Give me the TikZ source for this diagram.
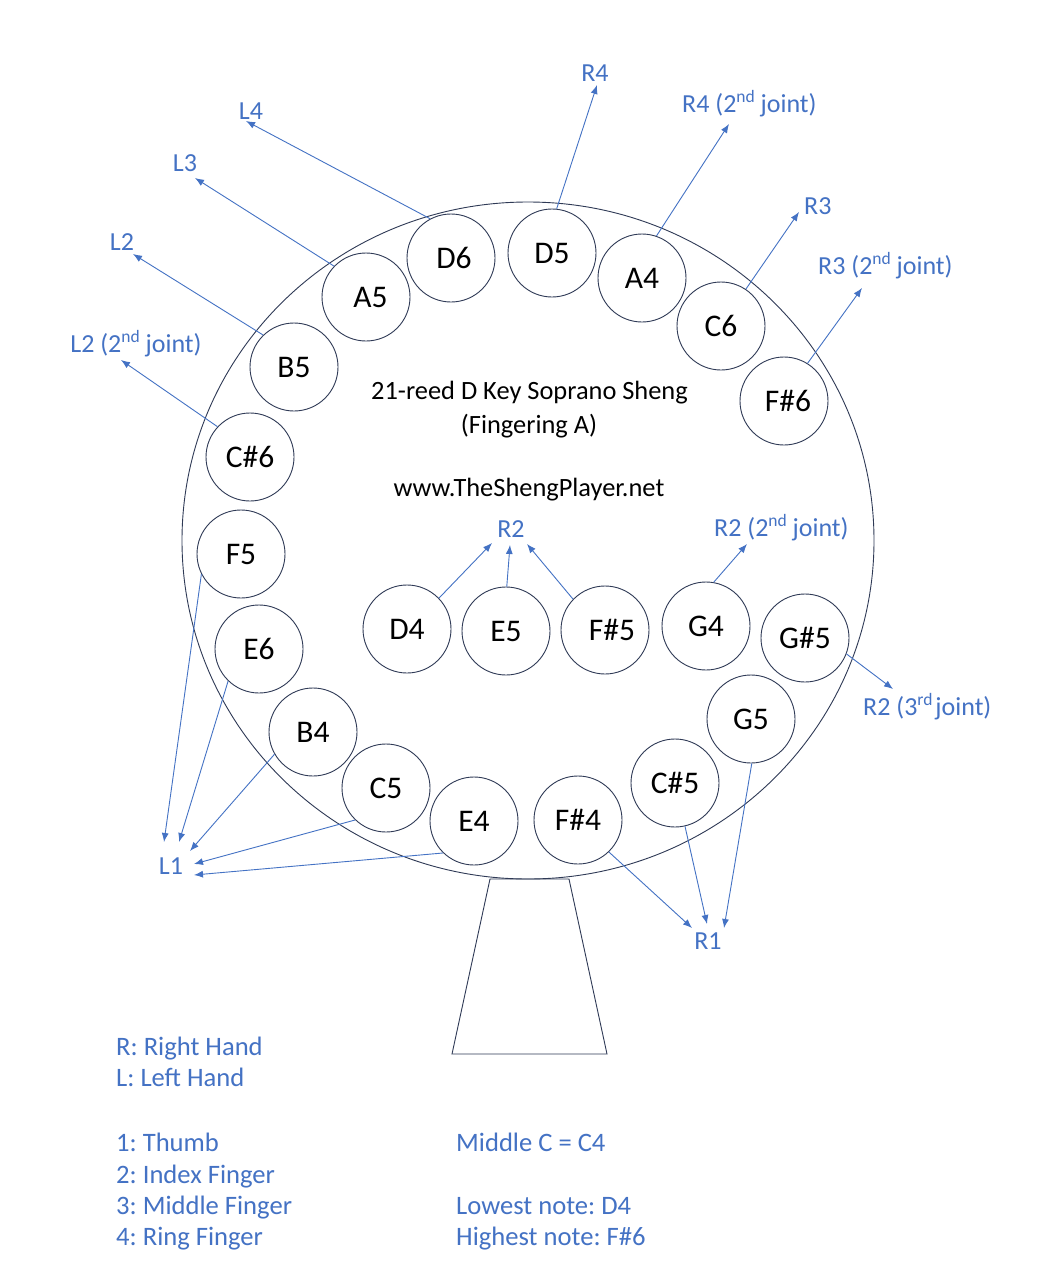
\documentclass[tikz,border=0pt]{standalone}
\usepackage{fontspec}
\setmainfont{Carlito}
\usetikzlibrary{arrows.meta}
\definecolor{ublue}{HTML}{4472C4}
\definecolor{navy}{HTML}{2F3A56}
\newcommand\mysup[1]{\raisebox{0.36em}{\fontsize{17.5}{17.5}\selectfont #1}}
\frenchspacing
\begin{document}
\begin{tikzpicture}[x=1pt,y=-1pt,
  note/.style={circle, draw=navy, line width=0.9pt, minimum size=88pt, inner sep=0pt,
    font=\fontsize{31.5}{36}\selectfont, text=black},
  arr/.style={draw=ublue, line width=0.9pt, -{Latex[length=9pt,width=7pt]}},
  lab/.style={text=ublue, font=\fontsize{26}{30}\selectfont, inner sep=0pt},
  ttl/.style={text=black, font=\fontsize{26.4}{31}\selectfont, inner sep=0pt},
  leg/.style={text=ublue, font=\fontsize{26.6}{32}\selectfont, inner sep=0pt, anchor=base west},
  body/.style={draw=navy, line width=0.9pt}]
\fill[white] (0,0) rectangle (1058,1280);
\useasboundingbox (0,0) rectangle (1058,1280);

% sheng body
\draw[body] (528,540.5) ellipse [x radius=346pt, y radius=338.5pt];
\draw[body] (490,879) -- (452,1054) -- (607,1054) -- (569,879) -- cycle;

% pipes
\node[note] (D6)  at (451,258) {\hspace*{6pt}D6};
\node[note] (D5)  at (552,253) {D5};
\node[note] (A4)  at (642,278) {A4};
\node[note] (C6)  at (721,326) {C6};
\node[note] (Fs6) at (784,401) {\hspace*{8pt}F\#6};
\node[note] (A5)  at (366,297) {\hspace*{9pt}A5};
\node[note] (B5)  at (294,367) {B5};
\node[note] (Cs6) at (250,457) {C\#6};
\node[note] (F5)  at (241,554) {F5};
\node[note] (E6)  at (259,649) {E6};
\node[note] (B4)  at (313,732) {B4};
\node[note] (C5)  at (386,788) {C5};
\node[note] (E4)  at (474,821) {E4};
\node[note] (Fs4) at (578,820) {F\#4};
\node[note] (Cs5) at (675,783) {C\#5};
\node[note] (G5)  at (751,719) {G5};
\node[note] (Gs5) at (805,638) {G\#5};
\node[note] (G4)  at (706,626) {G4};
\node[note] (Fs5) at (605,630) {\hspace*{14pt}F\#5};
\node[note] (E5)  at (506,631) {E5};
\node[note] (D4)  at (407,629) {D4};

% titles
\node[ttl, anchor=base] (t1) at (529.5,399) {21-reed D Key Soprano Sheng};
\node[ttl, anchor=base] (t2) at (529,433) {(Fingering A)};
\node[ttl, anchor=base] (t3) at (529,496) {www.TheShengPlayer.net};

% finger labels
\node[lab, anchor=base] (L4) at (251,119) {L4};
\node[lab, anchor=base] (L3) at (185,171) {L3};
\node[lab, anchor=base] (L2) at (122,250) {L2};
\node[lab, anchor=base] (L2j) at (136,352) {L2 (2\mysup{nd} joint)};
\node[lab, anchor=base] (R4) at (595,81) {R4};
\node[lab, anchor=base west] (R4j) at (682,112) {R4 (2\mysup{nd} joint)};
\node[lab, anchor=base west] (R3) at (804,214) {R3};
\node[lab, anchor=base west] (R3j) at (818,274) {R3 (2\mysup{nd} joint)};
\node[lab, anchor=base] (R2) at (511,537) {R2};
\node[lab, anchor=base west] (R2j) at (714,536) {R2 (2\mysup{nd} joint)};
\node[lab, anchor=base west] (R2jj) at (863,715) {R2 (3\mysup{rd}\hspace{3pt}joint)};
\node[lab, anchor=base] (L1) at (171,874) {L1};
\node[lab, anchor=base] (R1) at (708,949) {R1};

% arrow tips
\coordinate (tL4) at (246,121);
\coordinate (tL3) at (195,178);
\coordinate (tL2) at (133,254);
\coordinate (tL2j) at (121,360);
\coordinate (tR4) at (597,85);
\coordinate (tR4j) at (729,124);
\coordinate (tR3) at (799,212);
\coordinate (tR3j) at (862,288);
\coordinate (tL1a) at (164,842);
\coordinate (tL1b) at (179,842);
\coordinate (tL1c) at (190,851);
\coordinate (tL1d) at (194,864);
\coordinate (tL1e) at (194,875);
\coordinate (tR2a) at (492,543);
\coordinate (tR2b) at (510,545);
\coordinate (tR2c) at (527,544);
\coordinate (tR2j) at (747,544);
\coordinate (tR2jj) at (893,689);
\coordinate (tR1a) at (692,928);
\coordinate (tR1b) at (707,924);
\coordinate (tR1c) at (724,928);

% connectors
\draw[arr] (D6.118) -- (tL4);
\draw[arr] (A5.136) -- (tL3);
\draw[arr] (B5.134) -- (tL2);
\draw[arr] (Cs6.137) -- (tL2j);
\draw[arr] (D5.84) -- (tR4);
\draw[arr] (A4.71) -- (tR4j);
\draw[arr] (C6.56) -- (tR3);
\draw[arr] (Fs6.58) -- (tR3j);
\draw[arr] (F5.207) -- (tL1a);
\draw[arr] (E6.226) -- (tL1b);
\draw[arr] (B4.210) -- (tL1c);
\draw[arr] (C5.226) -- (tL1d);
\draw[arr] (E4.226) -- (tL1e);
\draw[arr] (D4.44) -- (tR2a);
\draw[arr] (E5.89) -- (tR2b);
\draw[arr] (Fs5.136) -- (tR2c);
\draw[arr] (G4.80) -- (tR2j);
\draw[arr] (Gs5.-21) -- (tR2jj);
\draw[arr] (Fs4.-46) -- (tR1a);
\draw[arr] (Cs5.-77) -- (tR1b);
\draw[arr] (G5.-89) -- (tR1c);

% legend
\node[leg] (k1) at (116,1055) {R: Right Hand};
\node[leg] (k2) at (116,1086) {L: Left Hand};
\node[leg] (k3) at (116,1151) {1: Thumb};
\node[leg] (k4) at (116,1183) {2: Index Finger};
\node[leg] (k5) at (116,1214) {3: Middle Finger};
\node[leg] (k6) at (116,1245) {4: Ring Finger};
\node[leg] (k7) at (456,1151) {Middle C = C4};
\node[leg] (k8) at (456,1214) {Lowest note: D4};
\node[leg] (k9) at (456,1245) {Highest note: F\#6};
\end{tikzpicture}
\end{document}
